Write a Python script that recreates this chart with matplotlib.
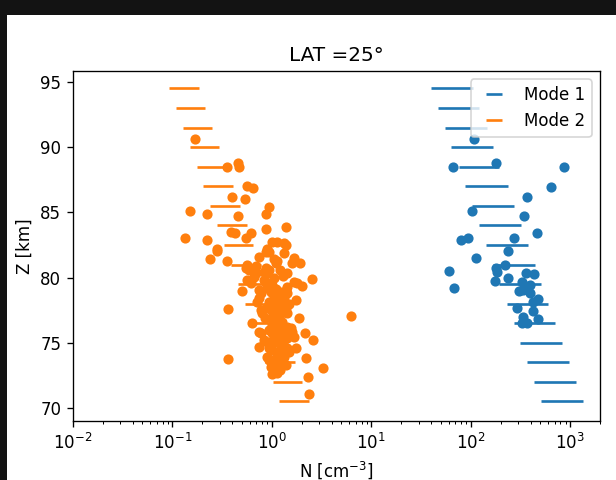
import matplotlib
matplotlib.use("Agg")
import matplotlib.pyplot as plt
from matplotlib.lines import Line2D
from matplotlib.patches import Rectangle

# ---- data ----
z_levels = [94.5, 93.0, 91.5, 90.0, 88.5, 87.0, 85.5, 84.0, 82.5, 81.0,
            79.5, 78.0, 76.5, 75.0, 73.5, 72.0, 70.5]

mode2_lo = [0.093, 0.108, 0.127, 0.150, 0.175, 0.204, 0.240, 0.280, 0.327,
            0.387, 0.455, 0.535, 0.640, 0.740, 0.851, 1.016, 1.18]
mode2_hi = [0.185, 0.215, 0.250, 0.295, 0.350, 0.410, 0.480, 0.560, 0.650,
            0.770, 0.900, 1.060, 1.250, 1.460, 1.700, 2.000, 2.35]

mode1_lo = [39.9, 46.5, 54.7, 63.8, 75.5, 88.2, 104, 122, 143, 167, 195,
            231, 270, 315, 370, 434, 508]
mode1_hi = [106, 122, 146, 167, 192, 235, 274, 320, 376, 445, 515, 606,
            711, 837, 977, 1148, 1352]

mode1_N = [107, 181, 66.4, 877, 644, 373, 103, 348, 463, 276, 94, 80.5, 237,
           114, 219, 181, 183, 61, 237, 362, 438, 174, 327, 397, 67.3, 303,
           335, 397, 481, 428, 292, 428, 340, 481, 327, 367]
mode1_Z = [90.6, 88.77, 88.5, 88.5, 86.97, 86.16, 85.1, 84.72, 83.44, 83.01,
           83.0, 82.88, 82.04, 81.48, 80.97, 80.76, 80.45, 80.51, 79.99, 80.33,
           80.25, 79.74, 79.69, 79.43, 79.23, 79.0, 79.05, 78.8, 78.34, 78.15,
           77.65, 77.44, 77.0, 76.8, 76.54, 76.5]

mode2_N = [0.168, 0.357, 0.461, 0.467, 0.568, 0.652, 0.401, 0.533, 0.935, 0.151,
           0.225, 0.457, 0.867, 1.376, 0.867, 0.385, 0.423, 0.612, 0.546, 0.134,
           0.221, 1.012, 1.135, 1.322, 0.284, 0.901, 0.279, 0.237, 0.357, 1.376,
           0.867, 0.935, 1.322, 1.05, 1.135, 1.09, 1.667, 1.915, 1.607, 0.568,
           0.546, 0.589, 0.867, 0.935, 0.833, 0.901, 1.431, 0.687, 0.661, 2.55,
           0.568, 0.612, 0.833, 0.867, 1.667, 1.803, 2.024, 1.431, 1.376, 1.431,
           0.506, 0.742, 0.772, 0.901, 0.973, 1.135, 1.225, 1.322, 1.734, 0.742,
           0.715, 0.935, 1.012, 1.09, 0.901, 0.973, 1.05, 0.366, 0.772, 1.225,
           1.322, 1.431, 1.135, 1.178, 1.274, 1.871, 6.28, 0.637, 1.012, 1.09,
           1.431, 1.545, 1.607, 0.742, 0.772, 0.935, 1.012, 1.05, 1.225, 1.322,
           1.431, 2.149, 1.667, 0.833, 0.901, 2.61, 1.135, 1.225, 1.322, 0.742,
           0.935, 1.012, 1.431, 1.485, 1.734, 1.135, 1.225, 1.322, 0.901, 0.935,
           2.184, 0.362, 1.05, 1.135, 1.178, 0.973, 1.05, 1.135, 3.29, 2.324,
           2.357,
           1.0, 1.1, 1.2, 1.05, 1.15, 1.25, 1.3, 1.2, 1.1, 1.0, 1.15, 1.25, 1.35,
           1.15, 1.2, 1.1, 1.3, 1.0, 1.2, 1.1, 1.25, 0.85, 0.8, 1.4, 1.5, 0.95,
           1.3, 1.2, 1.05, 0.7, 0.75, 1.3, 1.4, 1.2, 1.0]
mode2_Z = [90.63, 88.50, 88.77, 88.50, 87.02, 86.85, 86.20, 86.00, 85.44, 85.11,
           84.85, 84.72, 84.85, 83.90, 83.73, 83.52, 83.44, 83.44, 83.01, 83.01,
           82.88, 82.75, 82.71, 82.63, 82.19, 82.19, 82.04, 81.45, 81.27, 82.50,
           81.99, 81.99, 81.91, 81.40, 81.27, 81.10, 81.48, 81.14, 81.10, 80.97,
           80.71, 80.58, 80.71, 80.58, 80.45, 80.33, 80.38, 80.33, 80.07, 79.87,
           79.82, 79.61, 79.82, 79.56, 79.69, 79.56, 79.36, 79.30, 79.05, 78.80,
           79.00, 79.05, 78.80, 79.18, 78.92, 78.67, 78.54, 78.41, 78.28, 78.41,
           78.15, 78.15, 78.03, 77.90, 77.77, 77.52, 77.39, 77.61, 77.52, 77.65,
           77.39, 77.26, 77.13, 76.88, 76.62, 76.88, 77.08, 76.50, 76.37, 76.23,
           76.23, 76.11, 75.85, 75.85, 75.73, 75.98, 75.73, 75.47, 75.73, 75.47,
           75.34, 75.77, 75.47, 75.21, 75.08, 75.21, 75.08, 74.83, 74.70, 74.70,
           74.58, 74.45, 74.58, 74.32, 74.58, 74.19, 74.06, 73.93, 73.93, 73.68,
           73.81, 73.76, 73.55, 73.43, 73.17, 73.17, 72.91, 72.66, 73.04, 72.40,
           71.07,
           79.4, 79.1, 78.9, 78.6, 78.3, 78.1, 77.9, 77.5, 77.0, 76.9, 76.6, 76.4,
           76.0, 75.9, 75.6, 75.3, 75.1, 74.9, 74.4, 73.8, 73.6, 76.9, 77.3, 77.7,
           78.0, 79.6, 80.1, 80.6, 80.0, 80.9, 81.6, 74.3, 73.3, 72.9, 72.6]

title_text = "LAT =25°"
series_labels = ["Mode 1", "Mode 2"]

# ---- figure ----
plt.rcParams['font.size'] = 10
fig = plt.figure(figsize=(616 / 120, 480 / 120), dpi=120)
fig.patch.set_facecolor('#131313')
fig.add_artist(Rectangle((7 / 616, 0), 1 - 7 / 616, 1 - 15 / 480,
                         transform=fig.transFigure, facecolor='white',
                         edgecolor='none', zorder=-10))

ax = fig.add_axes([73 / 616, 1 - 421 / 480, (600 - 73) / 616, (421 - 71) / 480])

ax.hlines(z_levels, mode1_lo, mode1_hi, color='C0', lw=1.6, zorder=2)
ax.hlines(z_levels, mode2_lo, mode2_hi, color='C1', lw=1.6, zorder=2)
ax.scatter(mode1_N, mode1_Z, s=26, color='C0', zorder=3)
ax.scatter(mode2_N, mode2_Z, s=26, color='C1', zorder=3)

ax.set_xscale('log')
ax.set_xlim(0.01, 2000)
ax.set_ylim(69.0, 95.84)
ax.set_yticks([70, 75, 80, 85, 90, 95])
ax.set_xlabel(r"N [cm$^{-3}$]")
ax.set_ylabel("Z [km]")
ax.set_title(title_text, fontsize=12)

handles = [Line2D([], [], ls='none', marker='_', markersize=9.6, mew=1.6, color='C0'),
           Line2D([], [], ls='none', marker='_', markersize=9.6, mew=1.6, color='C1')]
ax.legend(handles, series_labels, loc='upper right')

fig.savefig("out.png", dpi=120, facecolor=fig.get_facecolor())
